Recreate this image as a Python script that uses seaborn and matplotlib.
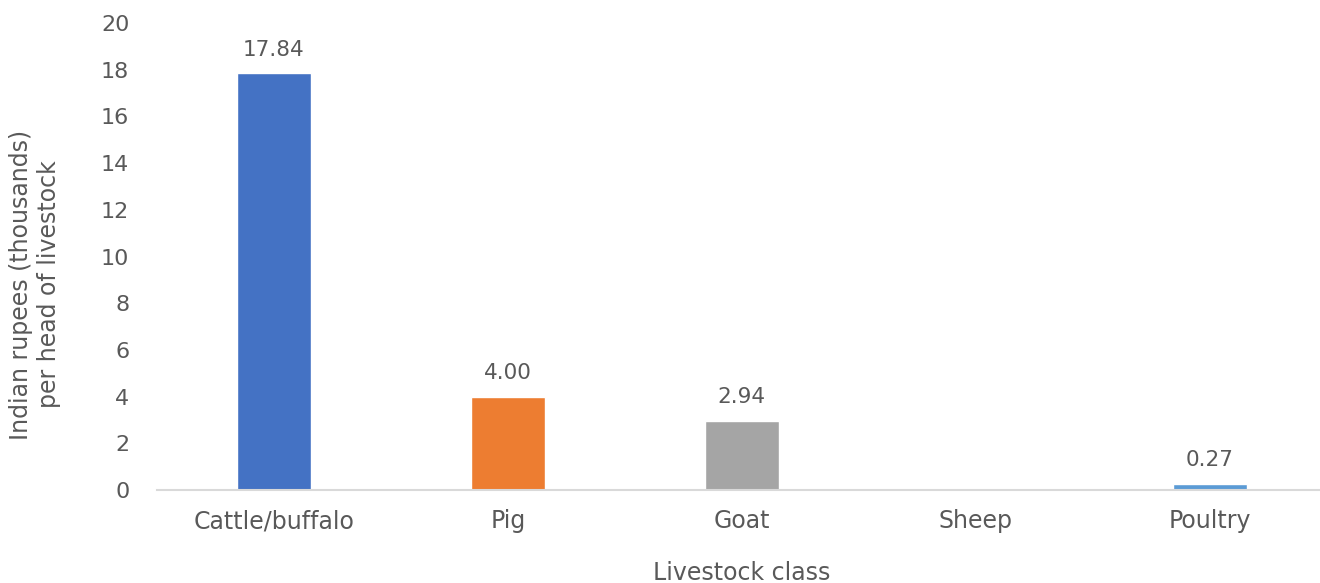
import matplotlib
matplotlib.use("Agg")
import matplotlib.pyplot as plt
import seaborn as sns
import numpy as np
import pandas as pd

categories = ["Cattle/buffalo", "Pig", "Goat", "Sheep", "Poultry"]
values = [17.84, 4.00, 2.94, np.nan, 0.27]
colors = ["#4472C4", "#ED7D31", "#A5A5A5", "#FFC000", "#5B9BD5"]
yticks = [0, 2, 4, 6, 8, 10, 12, 14, 16, 18, 20]

sns.set_style("white")
plt.rcParams['font.family'] = ['DejaVu Sans']
text_color = "#595959"

df = pd.DataFrame({"cat": categories, "val": values})

fig = plt.figure(figsize=(13.2, 5.83), dpi=100)
ax = fig.add_axes([0.119, 0.1595, 0.886, 0.801])
sns.barplot(data=df, x="cat", y="val", hue="cat", palette=colors, order=categories,
            hue_order=categories, width=0.316, legend=False, ax=ax, saturation=1)

for c in ax.containers:
    labels = ["" if np.isnan(v) else f"{v:.2f}" for v in c.datavalues]
    ax.bar_label(c, labels=labels, padding=10, fontsize=15.5, color=text_color)

ax.set_ylim(0, 20)
ax.set_yticks(yticks)
ax.set_xlim(-0.5, 4.5)
ax.tick_params(axis='both', length=0, colors=text_color)
ax.tick_params(axis='y', labelsize=16, pad=20)
ax.tick_params(axis='x', labelsize=17, pad=14)
for s in ["top", "right", "left"]:
    ax.spines[s].set_visible(False)
ax.spines["bottom"].set_color("#D9D9D9")
ax.spines["bottom"].set_linewidth(1.5)
ax.set_xlabel("Livestock class", fontsize=17, color=text_color, labelpad=20)
ax.set_ylabel("Indian rupees (thousands)\nper head of livestock", fontsize=17,
              color=text_color)
ax.yaxis.set_label_coords(-0.082, 0.44)

fig.savefig("out.png", dpi=100)
